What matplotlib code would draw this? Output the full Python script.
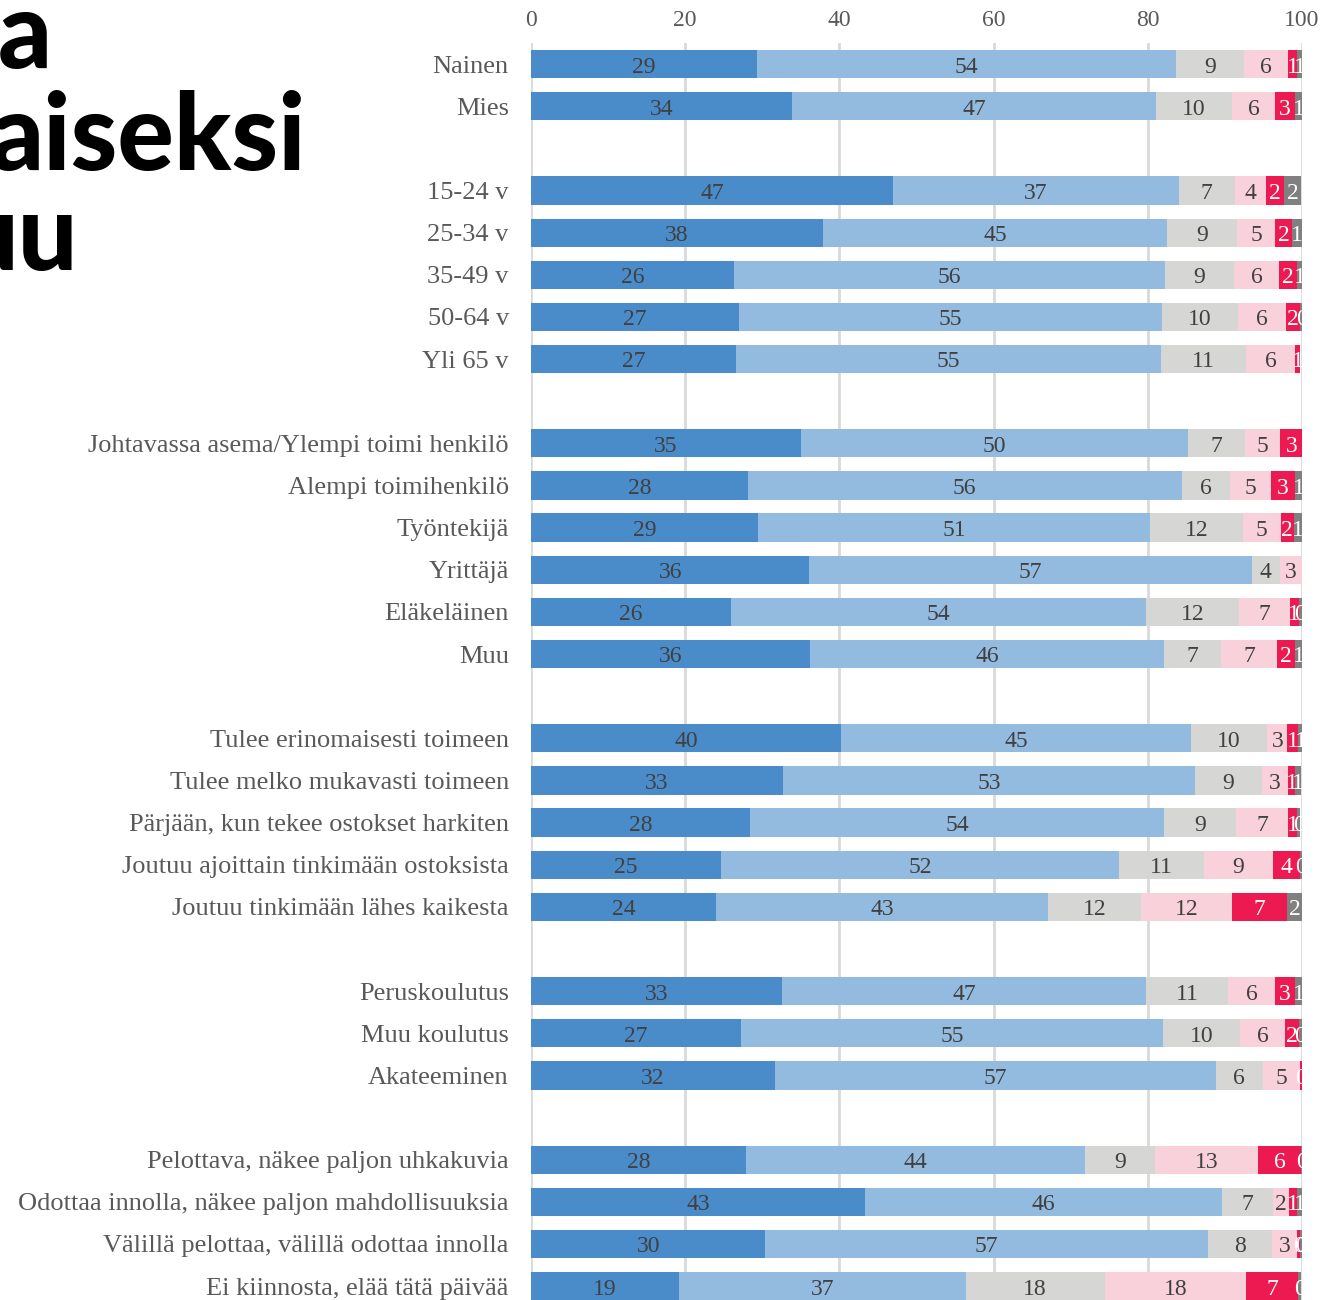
import numpy as np
import matplotlib.pyplot as plt

# -------------------------------------------------------------------
# 0. Data (% of respondents)
# -------------------------------------------------------------------
groups = [
    ["Nainen", "Mies"],
    ["15-24 v", "25-34 v", "35-49 v", "50-64 v", "Yli 65 v"],
    ["Johtavassa asema/Ylempi toimi henkilö", "Alempi toimihenkilö",
     "Työntekijä", "Yrittäjä", "Eläkeläinen", "Muu"],
    ["Tulee erinomaisesti toimeen", "Tulee melko mukavasti toimeen",
     "Pärjään, kun tekee ostokset harkiten",
     "Joutuu ajoittain tinkimään ostoksista",
     "Joutuu tinkimään lähes kaikesta"],
    ["Peruskoulutus", "Muu koulutus", "Akateeminen"],
    ["Pelottava, näkee paljon uhkakuvia",
     "Odottaa innolla, näkee paljon mahdollisuuksia",
     "Välillä pelottaa, välillä odottaa innolla",
     "Ei kiinnosta, elää tätä päivää"],
]

answer_1 = [29.3, 33.9, 47.0, 37.9, 26.3, 27.0, 26.6, 35.0, 28.1, 29.4, 36.1, 25.9, 36.2,
            40.2, 32.7, 28.4, 24.6, 24.0, 32.6, 27.2, 31.6, 27.9, 43.3, 30.4, 19.2]
answer_2 = [54.4, 47.2, 37.0, 44.6, 55.9, 54.8, 55.1, 50.2, 56.3, 50.9, 57.4, 53.9, 45.9,
            45.4, 53.4, 53.7, 51.7, 43.1, 47.2, 54.8, 57.2, 44.0, 46.3, 57.4, 37.2]
answer_3 = [8.8, 9.8, 7.3, 9.1, 9.0, 9.9, 11.0, 7.4, 6.3, 12.0, 3.6, 12.0, 7.4,
            9.9, 8.7, 9.4, 11.0, 12.0, 10.6, 10.0, 6.1, 9.0, 6.6, 8.3, 18.0]
answer_4 = [5.7, 5.6, 4.0, 4.9, 5.8, 6.2, 6.4, 4.6, 5.3, 5.0, 3.0, 6.6, 7.3,
            2.6, 3.4, 6.7, 8.9, 11.8, 6.1, 5.8, 4.8, 13.4, 2.1, 3.3, 18.4]
answer_5 = [1.2, 2.6, 2.4, 2.2, 2.4, 1.9, 0.7, 2.9, 3.1, 1.6, 0.0, 1.2, 2.3,
            1.4, 0.9, 1.2, 3.6, 7.2, 2.6, 1.8, 0.3, 5.6, 1.1, 0.4, 6.7]
answer_6 = [0.6, 0.9, 2.2, 1.3, 0.6, 0.3, 0.0, 0.0, 0.9, 1.2, 0.0, 0.4, 0.9,
            0.6, 0.8, 0.4, 0.2, 1.9, 1.0, 0.4, 0.0, 0.1, 0.6, 0.2, 0.4]

series = [answer_1, answer_2, answer_3, answer_4, answer_5, answer_6]
colors = ["#4a8bc9", "#93badf", "#d6d6d4", "#f9d1da", "#ec1a50", "#808080"]
text_colors = ["#404040", "#404040", "#404040", "#404040", "white", "white"]

ticks = [0, 20, 40, 60, 80, 100]

# -------------------------------------------------------------------
# 1. Row positions: one empty slot between groups
# -------------------------------------------------------------------
labels = []
ypos = []
slot = 0
for g in groups:
    for name in g:
        labels.append(name)
        ypos.append(slot)
        slot += 1
    slot += 1
ypos = np.array(ypos)

# -------------------------------------------------------------------
# 2. Figure
# -------------------------------------------------------------------
W, H = 1320, 1300
fig = plt.figure(figsize=(W / 100, H / 100), dpi=100)
ax = fig.add_axes([531 / W, 0, 771 / W, 1 - 43 / H])

serif = "Liberation Serif"

left = np.zeros(len(labels))
for vals, col, tcol in zip(series, colors, text_colors):
    vals = np.array(vals)
    ax.barh(ypos, vals, left=left, height=0.67, color=col, zorder=2)
    for y, l, v in zip(ypos, left, vals):
        if v <= 0:
            continue
        ax.text(l + v / 2, y + 0.07, f"{v:.0f}", ha="center", va="center",
                fontsize=17, family=serif, color=tcol, zorder=3, clip_on=True)
    left += vals

ax.set_xlim(0, 100)
ax.set_ylim(29.33, -0.5)

ax.xaxis.tick_top()
ax.set_xticks(ticks)
ax.set_xticklabels([str(t) for t in ticks], family=serif, fontsize=17, color="#595959")
ax.tick_params(axis="x", length=0, pad=9)
ax.set_yticks(ypos)
ax.set_yticklabels(labels, family=serif, fontsize=19, color="#595959")
ax.tick_params(axis="y", length=0, pad=16)

ax.grid(axis="x", color="#d9d9d9", linewidth=2, zorder=0)
ax.set_axisbelow(True)
for s in ax.spines.values():
    s.set_visible(False)

# title fragments cut off at the left edge
title_lines = ["a", "aiseksi", "uu"]
title_right = [52, 306, 78]
title_base = [68, 170, 270]
for txt, xr, yb in zip(title_lines, title_right, title_base):
    fig.text(xr / W, 1 - yb / H, txt, ha="right", va="baseline",
             fontsize=76, fontweight="black", family="Lato", color="black")

fig.savefig("out.png", dpi=100)
